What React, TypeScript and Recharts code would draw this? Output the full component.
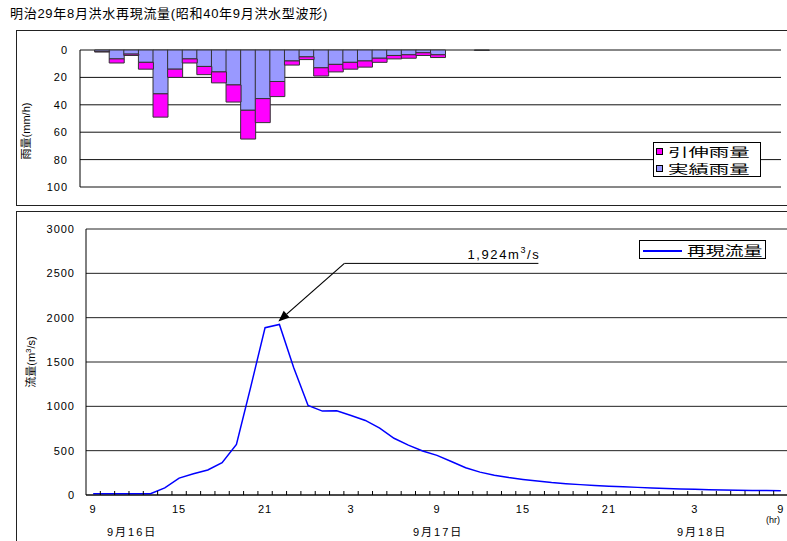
import React from "react";
import {
  BarChart,
  Bar,
  XAxis,
  YAxis,
  CartesianGrid,
  Legend,
  LineChart,
  Line,
  ReferenceDot,
} from "recharts";

const FONT = "'Liberation Sans', Arial, 'Noto Sans CJK JP', sans-serif";

// hourly rainfall slots for the top chart (mm/h)
const rainActual = [
  0, 1, 6.5, 3, 9, 32, 14, 6.5, 12, 16, 25.5, 44, 35.5, 23, 8, 5,
  13, 10.5, 9, 8, 6, 4, 3.5, 2, 3.5, 0, 0, 0.3, 0, 0, 0, 0,
  0, 0, 0, 0, 0, 0, 0, 0, 0, 0, 0, 0, 0, 0, 0, 0,
];
const rainExtra = [
  0, 0.5, 3, 1, 5, 17, 6, 3, 6, 8, 12.5, 21, 17.5, 11, 3, 2,
  6, 5.5, 5, 4.5, 3, 2.5, 2.5, 2, 2, 0, 0, 0, 0, 0, 0, 0,
  0, 0, 0, 0, 0, 0, 0, 0, 0, 0, 0, 0, 0, 0, 0, 0,
];
const rainTicks = [0, 20, 40, 60, 80, 100];

// reproduced discharge, hourly from 9:00 on 9/16 to 9:00 on 9/18 (m3/s)
const flow = [
  15, 15, 15, 15, 15, 80, 190, 240, 282, 364, 571, 1220, 1887, 1924, 1435, 1010,
  946, 950, 897, 841, 755, 640, 563, 497, 447, 378, 308, 258, 224, 198, 176, 157,
  140, 127, 117, 108, 100, 93, 86, 80, 74, 69, 64, 60, 57, 54, 52, 50, 48,
];
const hourLabels = ["9", "15", "21", "3", "9", "15", "21", "3", "9"];
const flowTicks = [0, 500, 1000, 1500, 2000, 2500, 3000];

const rainSeries = [
  { key: "extra", name: "引伸雨量", color: "#FF00FF" },
  { key: "actual", name: "実績雨量", color: "#9999FF" },
];

const rainData = rainActual.map((a, i) => ({ slot: i, actual: a, extra: rainExtra[i] }));
const flowData = flow.map((v, i) => ({ x: i + 0.5, q: v }));

const boundaryTicks = Array.from({ length: flow.length - 1 }, (_, k) => k + 1);
const labelTicks = hourLabels.map((_, k) => k * 6 + 0.5);
const xTicks = [...boundaryTicks, ...labelTicks].sort((a, b) => a - b);

const peakIndex = flow.indexOf(Math.max(...flow));
const peakValue = flow[peakIndex];

const tickStyle = { fontSize: 11, fill: "#000", fontFamily: FONT, letterSpacing: 1 };

function FlowTick(props: any) {
  const { x, y, payload } = props;
  const v = payload.value;
  if (Number.isInteger(v)) {
    return <line x1={x} x2={x} y1={y} y2={y - 4} stroke="#000" />;
  }
  const label = hourLabels[Math.round((v - 0.5) / 6)];
  return (
    <text x={x} y={y + 18} textAnchor="middle" style={tickStyle}>
      {label}
    </text>
  );
}

function PeakCallout(props: any) {
  const { cx, cy } = props;
  const sx = cx + 65;
  const sy = cy - 61;
  const tipX = cx - 1;
  const tipY = cy - 3;
  const ang = Math.atan2(tipY - sy, tipX - sx);
  const L = 11;
  const W = 4.5;
  const bx = tipX - L * Math.cos(ang);
  const by = tipY - L * Math.sin(ang);
  const p1 = `${bx + W * Math.sin(ang)},${by - W * Math.cos(ang)}`;
  const p2 = `${bx - W * Math.sin(ang)},${by + W * Math.cos(ang)}`;
  return (
    <g>
      <line x1={sx} y1={sy} x2={bx} y2={by} stroke="#000" strokeWidth={1.2} />
      <polygon points={`${tipX},${tipY} ${p1} ${p2}`} fill="#000" />
      <line x1={sx} y1={sy} x2={cx + 259} y2={sy} stroke="#000" />
      <text x={cx + 261} y={sy - 4} textAnchor="end" style={{ fontSize: 13, fontFamily: FONT, letterSpacing: 1.6 }}>
        {peakValue.toLocaleString("en-US")}m
        <tspan dy={-6} fontSize={9}>3</tspan>
        <tspan dy={6}>/s</tspan>
      </text>
    </g>
  );
}

function RainLegend() {
  return (
    <div
      style={{
        width: 104,
        height: 33,
        border: "1px solid #000",
        background: "#fff",
        fontFamily: FONT,
        fontSize: 12,
        paddingLeft: 2,
      }}
    >
      {rainSeries.map((s) => (
        <div key={s.key} style={{ display: "flex", alignItems: "center", height: 17 }}>
          <span
            style={{ width: 5, height: 5, border: "1px solid #000", background: s.color, marginRight: 5 }}
          />
          <span style={{ display: "inline-block", transform: "scaleX(1.7)", transformOrigin: "left" }}>
            {s.name}
          </span>
        </div>
      ))}
    </div>
  );
}

function FlowLegend() {
  return (
    <div
      style={{
        width: 125,
        height: 17,
        border: "1px solid #000",
        background: "#fff",
        fontFamily: FONT,
        fontSize: 13,
        display: "flex",
        alignItems: "center",
      }}
    >
      <span style={{ width: 39, height: 2, background: "#0000FF", marginLeft: 3, marginRight: 5, marginTop: 3 }} />
      <span style={{ display: "inline-block", transform: "scaleX(1.45)", transformOrigin: "left" }}>
        再現流量
      </span>
    </div>
  );
}

const textAbs = (left: number, top: number, size: number): React.CSSProperties => ({
  position: "absolute",
  left,
  top,
  fontSize: size,
  fontFamily: FONT,
  whiteSpace: "nowrap",
  lineHeight: 1,
});

export default function App() {
  return (
    <div
      style={{
        position: "absolute",
        left: 0,
        top: 0,
        width: 787,
        height: 541,
        overflow: "hidden",
        background: "#fff",
      }}
    >
      <div style={{ position: "absolute", left: 16, top: 30, width: 800, height: 174, border: "1px solid #222" }} />
      <div style={{ position: "absolute", left: 16, top: 211, width: 800, height: 400, border: "1px solid #222" }} />

      <div style={{ ...textAbs(10, 7, 13), letterSpacing: 0.7 }}>明治29年8月洪水再現流量(昭和40年9月洪水型波形)</div>

      <div style={{ position: "absolute", left: 0, top: 0 }}>
        <BarChart
          width={787}
          height={205}
          data={rainData}
          margin={{ top: 50, right: 6, bottom: 18, left: 0 }}
          barCategoryGap={0}
        >
          <CartesianGrid vertical={false} stroke="#111" />
          <XAxis dataKey="slot" hide />
          <YAxis
            reversed
            domain={[0, 100]}
            ticks={rainTicks}
            width={80}
            tickLine={false}
            tickSize={0}
            tickMargin={12}
            axisLine={{ stroke: "#000" }}
            tick={tickStyle}
          />
          <Bar dataKey="actual" stackId="r" fill="#9999FF" stroke="#333" isAnimationActive={false} />
          <Bar dataKey="extra" stackId="r" fill="#FF00FF" stroke="#333" isAnimationActive={false} />
          <Legend
            layout="vertical"
            align="center"
            verticalAlign="middle"
            content={<RainLegend />}
            wrapperStyle={{ left: 653, top: 142, width: 106, height: 35 }}
          />
        </BarChart>
      </div>

      <div style={{ position: "absolute", left: 0, top: 211 }}>
        <LineChart width={790} height={330} data={flowData} margin={{ top: 18, right: 2, bottom: 0, left: 0 }}>
          <CartesianGrid vertical={false} stroke="#222" />
          <XAxis
            dataKey="x"
            type="number"
            domain={[0, flow.length]}
            ticks={xTicks}
            interval={0}
            height={46}
            tickLine={false}
            tickSize={0}
            tickMargin={0}
            axisLine={{ stroke: "#000" }}
            tick={<FlowTick />}
          />
          <YAxis
            domain={[0, 3000]}
            ticks={flowTicks}
            width={86}
            tickLine={false}
            tickSize={0}
            tickMargin={11}
            axisLine={{ stroke: "#000" }}
            tick={tickStyle}
          />
          <Line
            dataKey="q"
            type="linear"
            stroke="#0000FF"
            strokeWidth={1.5}
            dot={false}
            isAnimationActive={false}
          />
          <ReferenceDot x={peakIndex + 0.5} y={peakValue} r={0} shape={<PeakCallout />} />
          <Legend
            layout="vertical"
            align="center"
            verticalAlign="middle"
            content={<FlowLegend />}
            wrapperStyle={{ left: 639, top: 29, width: 127, height: 19 }}
          />
        </LineChart>
      </div>

      <div
        style={{
          ...textAbs(26, 131, 11),
          transform: "translate(-50%, -50%) rotate(-90deg)",
        }}
      >
        雨量(mm/h)
      </div>
      <div
        style={{
          ...textAbs(31, 362, 11),
          transform: "translate(-50%, -50%) rotate(-90deg)",
        }}
      >
        流量(m<sup style={{ fontSize: 8 }}>3</sup>/s)
      </div>

      <div style={{ ...textAbs(107, 527, 11), letterSpacing: 2 }}>9月16日</div>
      <div style={{ ...textAbs(413, 527, 11), letterSpacing: 2 }}>9月17日</div>
      <div style={{ ...textAbs(677, 527, 11), letterSpacing: 2 }}>9月18日</div>
      <div style={{ ...textAbs(766, 516, 9) }}>(hr)</div>
    </div>
  );
}
